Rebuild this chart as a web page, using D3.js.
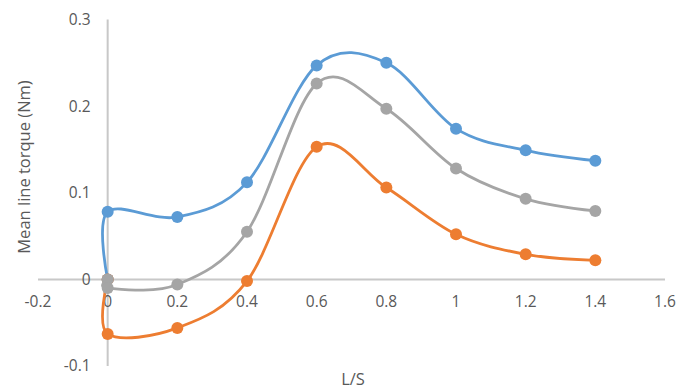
<!DOCTYPE html>
<html>
<head>
<meta charset="utf-8">
<script src="https://cdn.jsdelivr.net/npm/d3@7"></script>
<style>
  body { margin: 0; background: #fff; }
</style>
</head>
<body>
<div id="chart"></div>
<script>
var width = 678, height = 391

// L/S values, each series starts at the origin
const xs = [0, 0, 0.2, 0.4, 0.6, 0.8, 1, 1.2, 1.4]
const blue = [0, 0.078, 0.072, 0.112, 0.247, 0.250, 0.174, 0.149, 0.137]
const orange = [0, -0.063, -0.056, -0.002, 0.153, 0.106, 0.052, 0.029, 0.022]
const gray = [0, -0.010, -0.006, 0.055, 0.226, 0.197, 0.128, 0.093, 0.079]
const xTicks = [-0.2, 0, 0.2, 0.4, 0.6, 0.8, 1, 1.2, 1.4, 1.6]
const yTicks = [-0.1, 0, 0.1, 0.2, 0.3]

const series = [
	{ name: 'blue', values: blue, color: '#5b9bd5' },
	{ name: 'orange', values: orange, color: '#ed7d31' },
	{ name: 'gray', values: gray, color: '#a5a5a5' }
]

const svg = d3.select('#chart')
	.append('svg')
	.attr('width', width)
	.attr('height', height)
	.style('font-family', '"Open Sans", sans-serif')

const x = d3.scaleLinear().domain([-0.2, 1.6]).range([38, 665])
const y = d3.scaleLinear().domain([-0.1, 0.3]).range([366, 19.5])

const axisColor = '#c8c8c8', textColor = '#595959'

// horizontal axis through y = 0
svg.append('line')
	.attr('x1', x(-0.2)).attr('x2', x(1.6))
	.attr('y1', y(0)).attr('y2', y(0))
	.attr('stroke', axisColor).attr('stroke-width', 2)

// vertical axis through x = 0
svg.append('line')
	.attr('x1', x(0)).attr('x2', x(0))
	.attr('y1', y(-0.1)).attr('y2', y(0.3))
	.attr('stroke', axisColor).attr('stroke-width', 2)

svg.append('g')
	.selectAll('text')
	.data(xTicks)
	.join('text')
	.attr('x', d => x(d))
	.attr('y', y(0) + 28)
	.attr('text-anchor', 'middle')
	.attr('font-size', 15.5)
	.attr('fill', textColor)
	.text(d => String(d))

svg.append('g')
	.selectAll('text')
	.data(yTicks)
	.join('text')
	.attr('x', x(0) - 17)
	.attr('y', d => y(d))
	.attr('dy', '0.35em')
	.attr('text-anchor', 'end')
	.attr('font-size', 15.5)
	.attr('fill', textColor)
	.text(d => String(d))

svg.append('text')
	.attr('transform', 'translate(30,167) rotate(-90)')
	.attr('text-anchor', 'middle')
	.attr('font-size', 16.5)
	.attr('fill', textColor)
	.text('Mean line torque (Nm)')

svg.append('text')
	.attr('x', 353)
	.attr('y', 385)
	.attr('text-anchor', 'middle')
	.attr('font-size', 16.5)
	.attr('fill', textColor)
	.text('L/S')

const line = d3.line()
	.x((d, i) => x(xs[i]))
	.y(d => y(d))
	.curve(d3.curveCardinal.tension(0))

const g = svg.append('g')
	.selectAll('g')
	.data(series)
	.join('g')

g.append('path')
	.attr('d', d => line(d.values))
	.attr('fill', 'none')
	.attr('stroke', d => d.color)
	.attr('stroke-width', 2.8)

g.selectAll('circle')
	.data(d => d.values.map((v, i) => ({ x: xs[i], y: v, color: d.color })))
	.join('circle')
	.attr('cx', d => x(d.x))
	.attr('cy', d => y(d.y))
	.attr('r', 6)
	.attr('fill', d => d.color)
</script>
</body>
</html>
